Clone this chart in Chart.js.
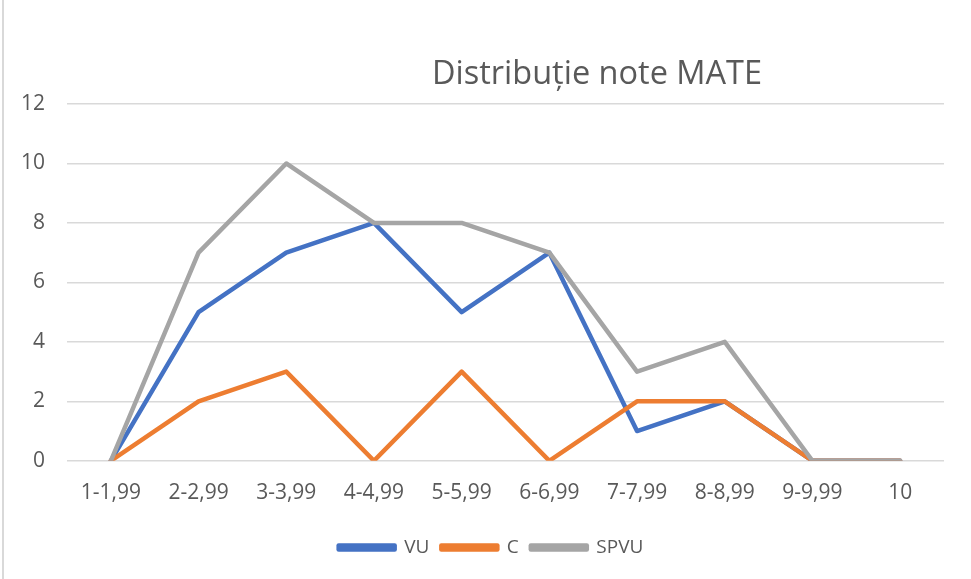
<!DOCTYPE html>
<html>
<head>
<meta charset="utf-8">
<script src="https://cdn.jsdelivr.net/npm/chart.js@4"></script>
<style>
    html, body { margin: 0; padding: 0; background: #fff; }
    #wrap { position: relative; width: 971px; height: 579px; }
    #wrap::before { content: ''; position: absolute; left: 2px; top: 0; bottom: 0; width: 2px; background: #d9d9d9; }
</style>
</head>
<body>
<div id="wrap"><canvas id="chart" width="971" height="579"></canvas></div>
<script>
// date
const categorii = ['1-1,99', '2-2,99', '3-3,99', '4-4,99', '5-5,99', '6-6,99', '7-7,99', '8-8,99', '9-9,99', '10'];
const valoriVU = [0, 5, 7, 8, 5, 7, 1, 2, 0, 0];
const valoriC = [0, 2, 3, 0, 3, 0, 2, 2, 0, 0];
const valoriSPVU = [0, 7, 10, 8, 8, 7, 3, 4, 0, 0];
const titlu = 'Distribuție note MATE';

const FONT = "'Open Sans', 'Noto Sans', sans-serif";
const GRI_TEXT = '#595959';

// titlul e desenat manual (in Excel nu e centrat pe tot graficul)
const titluPlugin = {
    id: 'titluPlugin',
    afterLayout(chart) {
        // legenda e putin mai la dreapta in original
        chart.legend.left += 38;
    },
    afterDraw(chart) {
        const ctx = chart.ctx;
        ctx.save();
        ctx.font = `32.5px ${FONT}`;
        ctx.fillStyle = GRI_TEXT;
        ctx.textAlign = 'center';
        ctx.textBaseline = 'middle';
        ctx.fillText(titlu, 597, 75);
        ctx.restore();
    }
};

// order: seria cu order mai mic e desenata deasupra
function serie(label, data, color, order) {
    return {
        label: label,
        data: data,
        order: order,
        borderColor: color,
        backgroundColor: color,
        borderWidth: 4.5,
        pointRadius: 0,
        pointHoverRadius: 0,
        tension: 0,
        borderJoinStyle: 'round',
        borderCapStyle: 'round'
    };
}

new Chart(document.getElementById('chart'), {
    type: 'line',
    data: {
        labels: categorii,
        datasets: [
            serie('VU', valoriVU, '#4472C4', 2),
            serie('C', valoriC, '#ED7D31', 1),
            serie('SPVU', valoriSPVU, '#A5A5A5', 0)
        ]
    },
    options: {
        responsive: false,
        animation: false,
        layout: { padding: { top: 104, right: 27, left: 0, bottom: 12 } },
        plugins: {
            title: { display: false },
            tooltip: { enabled: false },
            legend: {
                position: 'bottom',
                labels: {
                    boxWidth: 56,
                    boxHeight: 4,
                    padding: 12,
                    color: GRI_TEXT,
                    font: { family: FONT, size: 19 },
                    sort: (a, b) => a.datasetIndex - b.datasetIndex
                }
            }
        },
        scales: {
            x: {
                offset: true,
                grid: { display: false, drawTicks: false },
                border: { display: false },
                ticks: { color: GRI_TEXT, padding: 20, font: { family: FONT, size: 21 }, maxRotation: 0 }
            },
            y: {
                min: 0,
                max: 12,
                afterFit: (scale) => { scale.width = 67; },
                grid: { color: '#D9D9D9', lineWidth: 1.5, drawTicks: false },
                border: { display: false },
                ticks: { stepSize: 2, color: GRI_TEXT, padding: 22, font: { family: FONT, size: 21 } }
            }
        }
    },
    plugins: [titluPlugin]
});
</script>
</body>
</html>
